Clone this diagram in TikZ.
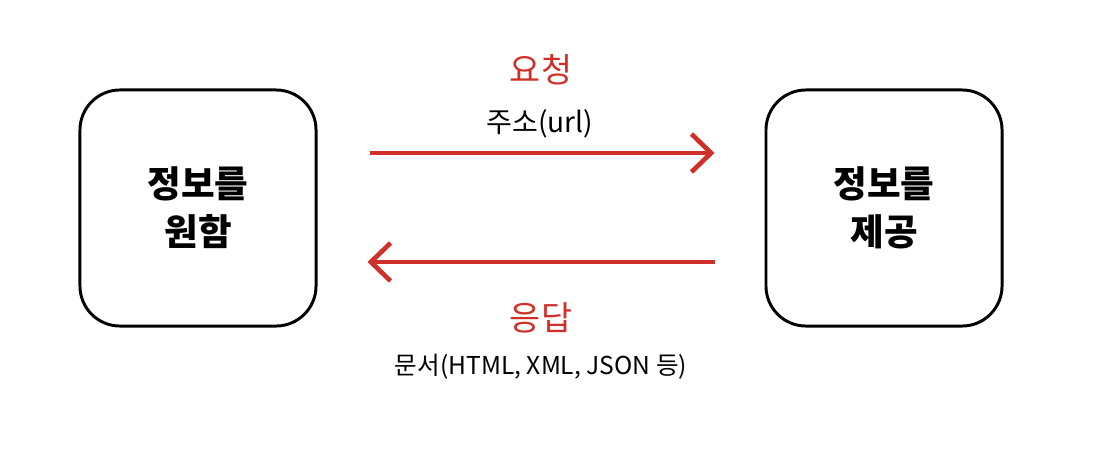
\documentclass[tikz,border=0pt]{standalone}
\usepackage{fontspec}
\setmainfont{Noto Sans CJK KR}
\usepackage{tikz}
\definecolor{krred}{RGB}{208,48,42}
\usetikzlibrary{arrows.meta,positioning}

\begin{document}
\begin{tikzpicture}[x=0.025cm, y=-0.025cm,
    party/.style={rectangle, rounded corners=1cm, minimum width=5.9cm, minimum height=5.9cm,
      draw=black, line width=2.1pt, align=center, font=\fontsize{26}{34}\selectfont\bfseries},
    flow/.style={draw=krred, line width=2.2pt, -{Straight Barb[length=14pt, width=27pt, line width=3.3pt]}},
    msg/.style={text=krred, font=\fontsize{24}{28}\selectfont},
    detail/.style={text=black, font=\fontsize{20}{24}\selectfont}
  ]
    \useasboundingbox (0,0) rectangle (1102,466);
    \node[party] (want) at (198,208) {정보를\\원함};
    \node[party] (give) at (884,208) {정보를\\제공};
    % request / response
    \draw[flow] ([shift={(52,-55)}]want.east) -- ([shift={(-50,-55)}]give.west);
    \draw[flow] ([shift={(-50,54)}]give.west) -- ([shift={(50,54)}]want.east);
    \node[msg] (req) at (541,70) {요청};
    \node[detail] (url) at (540,124) {주소(url)};
    \node[msg] (resp) at (541,318) {응답};
    \node[detail, font=\fontsize{17.5}{21}\selectfont] (doc) at (541,367) {문서(HTML, XML, JSON 등)};
  \end{tikzpicture}
\end{document}
